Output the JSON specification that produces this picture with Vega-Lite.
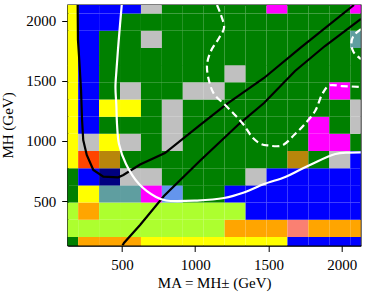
{
  "$schema": "https://vega.github.io/schema/vega-lite/v6.json",
  "width": 293,
  "height": 240.5,
  "autosize": {"type": "none"},
  "padding": {"left": 67.7, "top": 5, "right": 5.3, "bottom": 50.5},
  "background": "white",
  "config": {
    "view": {"stroke": "black", "strokeWidth": 1.3},
    "axis": {
      "grid": false,
      "domainColor": "black",
      "domainWidth": 1.3,
      "tickColor": "black",
      "tickWidth": 1,
      "tickSize": 6,
      "labelPadding": 6,
      "labelFont": "Liberation Serif",
      "labelFontSize": 15,
      "labelColor": "black",
      "titleFont": "Liberation Serif",
      "titleFontSize": 15,
      "titleFontWeight": "normal",
      "titleColor": "black"
    }
  },
  "datasets": {
    "cells": [
      {"mA":130,"mH":130,"c":"green"},{"mA":272.9,"mH":130,"c":"orange"},{"mA":415.7,"mH":130,"c":"orange"},{"mA":558.6,"mH":130,"c":"orange"},{"mA":701.4,"mH":130,"c":"yellow"},{"mA":844.3,"mH":130,"c":"yellow"},{"mA":987.1,"mH":130,"c":"yellow"},{"mA":1130,"mH":130,"c":"yellow"},{"mA":1272.9,"mH":130,"c":"yellow"},{"mA":1415.7,"mH":130,"c":"yellow"},{"mA":1558.6,"mH":130,"c":"yellow"},{"mA":1701.4,"mH":130,"c":"blue"},{"mA":1844.3,"mH":130,"c":"blue"},{"mA":1987.1,"mH":130,"c":"blue"},{"mA":2130,"mH":130,"c":"blue"},

      {"mA":130,"mH":272.9,"c":"greenyellow"},{"mA":272.9,"mH":272.9,"c":"greenyellow"},{"mA":415.7,"mH":272.9,"c":"greenyellow"},{"mA":558.6,"mH":272.9,"c":"greenyellow"},{"mA":701.4,"mH":272.9,"c":"greenyellow"},{"mA":844.3,"mH":272.9,"c":"greenyellow"},{"mA":987.1,"mH":272.9,"c":"greenyellow"},{"mA":1130,"mH":272.9,"c":"greenyellow"},{"mA":1272.9,"mH":272.9,"c":"orange"},{"mA":1415.7,"mH":272.9,"c":"orange"},{"mA":1558.6,"mH":272.9,"c":"orange"},{"mA":1701.4,"mH":272.9,"c":"salmon"},{"mA":1844.3,"mH":272.9,"c":"orange"},{"mA":1987.1,"mH":272.9,"c":"orange"},{"mA":2130,"mH":272.9,"c":"orange"},

      {"mA":130,"mH":415.7,"c":"greenyellow"},{"mA":272.9,"mH":415.7,"c":"orange"},{"mA":415.7,"mH":415.7,"c":"greenyellow"},{"mA":558.6,"mH":415.7,"c":"greenyellow"},{"mA":701.4,"mH":415.7,"c":"greenyellow"},{"mA":844.3,"mH":415.7,"c":"greenyellow"},{"mA":987.1,"mH":415.7,"c":"greenyellow"},{"mA":1130,"mH":415.7,"c":"greenyellow"},{"mA":1272.9,"mH":415.7,"c":"greenyellow"},{"mA":1415.7,"mH":415.7,"c":"blue"},{"mA":1558.6,"mH":415.7,"c":"blue"},{"mA":1701.4,"mH":415.7,"c":"blue"},{"mA":1844.3,"mH":415.7,"c":"blue"},{"mA":1987.1,"mH":415.7,"c":"blue"},{"mA":2130,"mH":415.7,"c":"blue"},

      {"mA":130,"mH":558.6,"c":"green"},{"mA":272.9,"mH":558.6,"c":"yellow"},{"mA":415.7,"mH":558.6,"c":"cadetblue"},{"mA":558.6,"mH":558.6,"c":"cadetblue"},{"mA":701.4,"mH":558.6,"c":"magenta"},{"mA":844.3,"mH":558.6,"c":"cornflowerblue"},{"mA":987.1,"mH":558.6,"c":"green"},{"mA":1130,"mH":558.6,"c":"green"},{"mA":1272.9,"mH":558.6,"c":"blue"},{"mA":1415.7,"mH":558.6,"c":"blue"},{"mA":1558.6,"mH":558.6,"c":"blue"},{"mA":1701.4,"mH":558.6,"c":"blue"},{"mA":1844.3,"mH":558.6,"c":"blue"},{"mA":1987.1,"mH":558.6,"c":"blue"},{"mA":2130,"mH":558.6,"c":"blue"},

      {"mA":130,"mH":701.4,"c":"green"},{"mA":272.9,"mH":701.4,"c":"blue"},{"mA":415.7,"mH":701.4,"c":"navy"},{"mA":558.6,"mH":701.4,"c":"silver"},{"mA":701.4,"mH":701.4,"c":"silver"},{"mA":844.3,"mH":701.4,"c":"green"},{"mA":987.1,"mH":701.4,"c":"green"},{"mA":1130,"mH":701.4,"c":"green"},{"mA":1272.9,"mH":701.4,"c":"green"},{"mA":1415.7,"mH":701.4,"c":"silver"},{"mA":1558.6,"mH":701.4,"c":"blue"},{"mA":1701.4,"mH":701.4,"c":"blue"},{"mA":1844.3,"mH":701.4,"c":"blue"},{"mA":1987.1,"mH":701.4,"c":"blue"},{"mA":2130,"mH":701.4,"c":"blue"},

      {"mA":130,"mH":844.3,"c":"yellow"},{"mA":272.9,"mH":844.3,"c":"orangered"},{"mA":415.7,"mH":844.3,"c":"darkgoldenrod"},{"mA":558.6,"mH":844.3,"c":"green"},{"mA":701.4,"mH":844.3,"c":"green"},{"mA":844.3,"mH":844.3,"c":"green"},{"mA":987.1,"mH":844.3,"c":"green"},{"mA":1130,"mH":844.3,"c":"green"},{"mA":1272.9,"mH":844.3,"c":"green"},{"mA":1415.7,"mH":844.3,"c":"green"},{"mA":1558.6,"mH":844.3,"c":"green"},{"mA":1701.4,"mH":844.3,"c":"darkgoldenrod"},{"mA":1844.3,"mH":844.3,"c":"green"},{"mA":1987.1,"mH":844.3,"c":"silver"},{"mA":2130,"mH":844.3,"c":"blue"},

      {"mA":130,"mH":987.1,"c":"yellow"},{"mA":272.9,"mH":987.1,"c":"silver"},{"mA":415.7,"mH":987.1,"c":"yellow"},{"mA":558.6,"mH":987.1,"c":"silver"},{"mA":701.4,"mH":987.1,"c":"green"},{"mA":844.3,"mH":987.1,"c":"silver"},{"mA":987.1,"mH":987.1,"c":"green"},{"mA":1130,"mH":987.1,"c":"green"},{"mA":1272.9,"mH":987.1,"c":"green"},{"mA":1415.7,"mH":987.1,"c":"green"},{"mA":1558.6,"mH":987.1,"c":"green"},{"mA":1701.4,"mH":987.1,"c":"green"},{"mA":1844.3,"mH":987.1,"c":"magenta"},{"mA":1987.1,"mH":987.1,"c":"magenta"},{"mA":2130,"mH":987.1,"c":"green"},

      {"mA":130,"mH":1130,"c":"yellow"},{"mA":272.9,"mH":1130,"c":"blue"},{"mA":415.7,"mH":1130,"c":"green"},{"mA":558.6,"mH":1130,"c":"green"},{"mA":701.4,"mH":1130,"c":"green"},{"mA":844.3,"mH":1130,"c":"silver"},{"mA":987.1,"mH":1130,"c":"green"},{"mA":1130,"mH":1130,"c":"green"},{"mA":1272.9,"mH":1130,"c":"green"},{"mA":1415.7,"mH":1130,"c":"green"},{"mA":1558.6,"mH":1130,"c":"green"},{"mA":1701.4,"mH":1130,"c":"green"},{"mA":1844.3,"mH":1130,"c":"magenta"},{"mA":1987.1,"mH":1130,"c":"green"},{"mA":2130,"mH":1130,"c":"silver"},

      {"mA":130,"mH":1272.9,"c":"yellow"},{"mA":272.9,"mH":1272.9,"c":"blue"},{"mA":415.7,"mH":1272.9,"c":"yellow"},{"mA":558.6,"mH":1272.9,"c":"yellow"},{"mA":701.4,"mH":1272.9,"c":"green"},{"mA":844.3,"mH":1272.9,"c":"silver"},{"mA":987.1,"mH":1272.9,"c":"green"},{"mA":1130,"mH":1272.9,"c":"green"},{"mA":1272.9,"mH":1272.9,"c":"green"},{"mA":1415.7,"mH":1272.9,"c":"green"},{"mA":1558.6,"mH":1272.9,"c":"green"},{"mA":1701.4,"mH":1272.9,"c":"green"},{"mA":1844.3,"mH":1272.9,"c":"green"},{"mA":1987.1,"mH":1272.9,"c":"green"},{"mA":2130,"mH":1272.9,"c":"silver"},

      {"mA":130,"mH":1415.7,"c":"yellow"},{"mA":272.9,"mH":1415.7,"c":"blue"},{"mA":415.7,"mH":1415.7,"c":"green"},{"mA":558.6,"mH":1415.7,"c":"silver"},{"mA":701.4,"mH":1415.7,"c":"green"},{"mA":844.3,"mH":1415.7,"c":"green"},{"mA":987.1,"mH":1415.7,"c":"silver"},{"mA":1130,"mH":1415.7,"c":"silver"},{"mA":1272.9,"mH":1415.7,"c":"green"},{"mA":1415.7,"mH":1415.7,"c":"green"},{"mA":1558.6,"mH":1415.7,"c":"green"},{"mA":1701.4,"mH":1415.7,"c":"green"},{"mA":1844.3,"mH":1415.7,"c":"green"},{"mA":1987.1,"mH":1415.7,"c":"magenta"},{"mA":2130,"mH":1415.7,"c":"green"},

      {"mA":130,"mH":1558.6,"c":"yellow"},{"mA":272.9,"mH":1558.6,"c":"blue"},{"mA":415.7,"mH":1558.6,"c":"green"},{"mA":558.6,"mH":1558.6,"c":"green"},{"mA":701.4,"mH":1558.6,"c":"green"},{"mA":844.3,"mH":1558.6,"c":"green"},{"mA":987.1,"mH":1558.6,"c":"green"},{"mA":1130,"mH":1558.6,"c":"green"},{"mA":1272.9,"mH":1558.6,"c":"silver"},{"mA":1415.7,"mH":1558.6,"c":"green"},{"mA":1558.6,"mH":1558.6,"c":"green"},{"mA":1701.4,"mH":1558.6,"c":"green"},{"mA":1844.3,"mH":1558.6,"c":"green"},{"mA":1987.1,"mH":1558.6,"c":"green"},{"mA":2130,"mH":1558.6,"c":"green"},

      {"mA":130,"mH":1701.4,"c":"yellow"},{"mA":272.9,"mH":1701.4,"c":"blue"},{"mA":415.7,"mH":1701.4,"c":"green"},{"mA":558.6,"mH":1701.4,"c":"green"},{"mA":701.4,"mH":1701.4,"c":"green"},{"mA":844.3,"mH":1701.4,"c":"green"},{"mA":987.1,"mH":1701.4,"c":"green"},{"mA":1130,"mH":1701.4,"c":"green"},{"mA":1272.9,"mH":1701.4,"c":"green"},{"mA":1415.7,"mH":1701.4,"c":"green"},{"mA":1558.6,"mH":1701.4,"c":"green"},{"mA":1701.4,"mH":1701.4,"c":"green"},{"mA":1844.3,"mH":1701.4,"c":"green"},{"mA":1987.1,"mH":1701.4,"c":"green"},{"mA":2130,"mH":1701.4,"c":"green"},

      {"mA":130,"mH":1844.3,"c":"yellow"},{"mA":272.9,"mH":1844.3,"c":"blue"},{"mA":415.7,"mH":1844.3,"c":"green"},{"mA":558.6,"mH":1844.3,"c":"green"},{"mA":701.4,"mH":1844.3,"c":"silver"},{"mA":844.3,"mH":1844.3,"c":"green"},{"mA":987.1,"mH":1844.3,"c":"green"},{"mA":1130,"mH":1844.3,"c":"green"},{"mA":1272.9,"mH":1844.3,"c":"green"},{"mA":1415.7,"mH":1844.3,"c":"green"},{"mA":1558.6,"mH":1844.3,"c":"green"},{"mA":1701.4,"mH":1844.3,"c":"green"},{"mA":1844.3,"mH":1844.3,"c":"green"},{"mA":1987.1,"mH":1844.3,"c":"green"},{"mA":2130,"mH":1844.3,"c":"cadetblue"},

      {"mA":130,"mH":1987.1,"c":"yellow"},{"mA":272.9,"mH":1987.1,"c":"blue"},{"mA":415.7,"mH":1987.1,"c":"blue"},{"mA":558.6,"mH":1987.1,"c":"green"},{"mA":701.4,"mH":1987.1,"c":"green"},{"mA":844.3,"mH":1987.1,"c":"green"},{"mA":987.1,"mH":1987.1,"c":"green"},{"mA":1130,"mH":1987.1,"c":"green"},{"mA":1272.9,"mH":1987.1,"c":"green"},{"mA":1415.7,"mH":1987.1,"c":"green"},{"mA":1558.6,"mH":1987.1,"c":"green"},{"mA":1701.4,"mH":1987.1,"c":"green"},{"mA":1844.3,"mH":1987.1,"c":"green"},{"mA":1987.1,"mH":1987.1,"c":"green"},{"mA":2130,"mH":1987.1,"c":"green"},

      {"mA":130,"mH":2130,"c":"yellow"},{"mA":272.9,"mH":2130,"c":"blue"},{"mA":415.7,"mH":2130,"c":"blue"},{"mA":558.6,"mH":2130,"c":"blue"},{"mA":701.4,"mH":2130,"c":"silver"},{"mA":844.3,"mH":2130,"c":"green"},{"mA":987.1,"mH":2130,"c":"green"},{"mA":1130,"mH":2130,"c":"green"},{"mA":1272.9,"mH":2130,"c":"green"},{"mA":1415.7,"mH":2130,"c":"green"},{"mA":1558.6,"mH":2130,"c":"magenta"},{"mA":1701.4,"mH":2130,"c":"green"},{"mA":1844.3,"mH":2130,"c":"green"},{"mA":1987.1,"mH":2130,"c":"green"},{"mA":2130,"mH":2130,"c":"magenta"}
    ],
    "black": [
      {"curve":"b1","seq":0,"mA":198,"mH":2130},{"curve":"b1","seq":1,"mA":200,"mH":1839},{"curve":"b1","seq":2,"mA":209,"mH":1673},{"curve":"b1","seq":3,"mA":221,"mH":1423},{"curve":"b1","seq":4,"mA":228,"mH":1174},{"curve":"b1","seq":5,"mA":236,"mH":1007},{"curve":"b1","seq":6,"mA":260,"mH":883},{"curve":"b1","seq":7,"mA":305,"mH":758},{"curve":"b1","seq":8,"mA":373,"mH":702},{"curve":"b1","seq":9,"mA":475,"mH":697},{"curve":"b1","seq":10,"mA":510,"mH":716},{"curve":"b1","seq":11,"mA":624,"mH":804},{"curve":"b1","seq":12,"mA":794,"mH":899},{"curve":"b1","seq":13,"mA":1026,"mH":1124},{"curve":"b1","seq":14,"mA":1217,"mH":1307},{"curve":"b1","seq":15,"mA":1470,"mH":1523},{"curve":"b1","seq":16,"mA":1716,"mH":1772},{"curve":"b1","seq":17,"mA":2084,"mH":2130},
      {"curve":"b2","seq":0,"mA":504,"mH":130},{"curve":"b2","seq":1,"mA":514,"mH":151},{"curve":"b2","seq":2,"mA":624,"mH":300},{"curve":"b2","seq":3,"mA":787,"mH":542},{"curve":"b2","seq":4,"mA":1033,"mH":835},{"curve":"b2","seq":5,"mA":1299,"mH":1140},{"curve":"b2","seq":6,"mA":1470,"mH":1315},{"curve":"b2","seq":7,"mA":1682,"mH":1581},{"curve":"b2","seq":8,"mA":1886,"mH":1789},{"curve":"b2","seq":9,"mA":2132,"mH":2014}
    ],
    "white": [
      {"curve":"w1","seq":0,"mA":499,"mH":2130},{"curve":"w1","seq":1,"mA":487,"mH":1964},{"curve":"w1","seq":2,"mA":473,"mH":1756},{"curve":"w1","seq":3,"mA":463,"mH":1590},{"curve":"w1","seq":4,"mA":456,"mH":1448},{"curve":"w1","seq":5,"mA":462,"mH":1298},{"curve":"w1","seq":6,"mA":467,"mH":1132},{"curve":"w1","seq":7,"mA":480,"mH":974},{"curve":"w1","seq":8,"mA":528,"mH":808},{"curve":"w1","seq":9,"mA":617,"mH":641},{"curve":"w1","seq":10,"mA":733,"mH":533},{"curve":"w1","seq":11,"mA":801,"mH":504},{"curve":"w1","seq":12,"mA":1013,"mH":504},{"curve":"w1","seq":13,"mA":1197,"mH":525},{"curve":"w1","seq":14,"mA":1333,"mH":571},{"curve":"w1","seq":15,"mA":1470,"mH":641},{"curve":"w1","seq":16,"mA":1615,"mH":700},{"curve":"w1","seq":17,"mA":1716,"mH":760},{"curve":"w1","seq":18,"mA":1798,"mH":808},{"curve":"w1","seq":19,"mA":1957,"mH":891},{"curve":"w1","seq":20,"mA":2050,"mH":903},{"curve":"w1","seq":21,"mA":2132,"mH":905}
    ],
    "dashed": [
      {"curve":"d1","seq":0,"mA":1149,"mH":2130},{"curve":"d1","seq":1,"mA":1176,"mH":2047},{"curve":"d1","seq":2,"mA":1197,"mH":1939},{"curve":"d1","seq":3,"mA":1163,"mH":1856},{"curve":"d1","seq":4,"mA":1108,"mH":1748},{"curve":"d1","seq":5,"mA":1081,"mH":1631},{"curve":"d1","seq":6,"mA":1095,"mH":1498},{"curve":"d1","seq":7,"mA":1129,"mH":1390},{"curve":"d1","seq":8,"mA":1197,"mH":1307},{"curve":"d1","seq":9,"mA":1265,"mH":1224},{"curve":"d1","seq":10,"mA":1327,"mH":1140},{"curve":"d1","seq":11,"mA":1395,"mH":1024},{"curve":"d1","seq":12,"mA":1450,"mH":974},{"curve":"d1","seq":13,"mA":1497,"mH":962},{"curve":"d1","seq":14,"mA":1593,"mH":962},{"curve":"d1","seq":15,"mA":1682,"mH":1057},{"curve":"d1","seq":16,"mA":1743,"mH":1132},{"curve":"d1","seq":17,"mA":1820,"mH":1251},{"curve":"d1","seq":18,"mA":1866,"mH":1385},{"curve":"d1","seq":19,"mA":1912,"mH":1459},{"curve":"d1","seq":20,"mA":2002,"mH":1456},{"curve":"d1","seq":21,"mA":2132,"mH":1448},
      {"curve":"d2","seq":0,"mA":2132,"mH":1930},{"curve":"d2","seq":1,"mA":2082,"mH":1875},{"curve":"d2","seq":2,"mA":2066,"mH":1806},{"curve":"d2","seq":3,"mA":2082,"mH":1737},{"curve":"d2","seq":4,"mA":2132,"mH":1681}
    ]
  },
  "encoding": {
    "x": {
      "field": "mA",
      "type": "quantitative",
      "scale": {"domain": [130, 2130], "nice": false, "zero": false},
      "axis": {"values": [500, 1000, 1500, 2000], "format": "d", "title": "MA = MH± (GeV)", "titleY": 42, "titleBaseline": "alphabetic"}
    },
    "y": {
      "field": "mH",
      "type": "quantitative",
      "scale": {"domain": [130, 2130], "nice": false, "zero": false},
      "axis": {"values": [500, 1000, 1500, 2000], "format": "d", "title": "MH (GeV)", "titleX": -54.7, "titleY": 120, "titleAngle": 270, "titleBaseline": "alphabetic"}
    }
  },
  "layer": [
    {
      "data": {"name": "cells"},
      "mark": {"type": "rect", "width": 20.93, "height": 17.18, "clip": true},
      "encoding": {
        "color": {
          "field": "c",
          "type": "nominal",
          "legend": null,
          "scale": {
            "domain": ["green", "yellow", "blue", "silver", "magenta", "orange", "greenyellow", "orangered", "darkgoldenrod", "navy", "cadetblue", "cornflowerblue", "salmon"],
            "range": ["#008000", "#ffff00", "#0000ff", "#c0c0c0", "#ff00ff", "#ffa500", "#adff2f", "#ff4500", "#b8860b", "#000080", "#5f9ea0", "#6495ed", "#fa8072"]
          }
        }
      }
    },
    {
      "data": {"name": "black"},
      "mark": {"type": "line", "color": "black", "strokeWidth": 2.2, "clip": true},
      "encoding": {"detail": {"field": "curve"}, "order": {"field": "seq", "type": "quantitative"}}
    },
    {
      "data": {"name": "white"},
      "mark": {"type": "line", "color": "white", "strokeWidth": 2.2, "clip": true, "interpolate": "catmull-rom"},
      "encoding": {"detail": {"field": "curve"}, "order": {"field": "seq", "type": "quantitative"}}
    },
    {
      "data": {"name": "dashed"},
      "mark": {"type": "line", "color": "white", "strokeWidth": 2.2, "strokeDash": [7, 4], "clip": true, "interpolate": "catmull-rom"},
      "encoding": {"detail": {"field": "curve"}, "order": {"field": "seq", "type": "quantitative"}}
    }
  ]
}
